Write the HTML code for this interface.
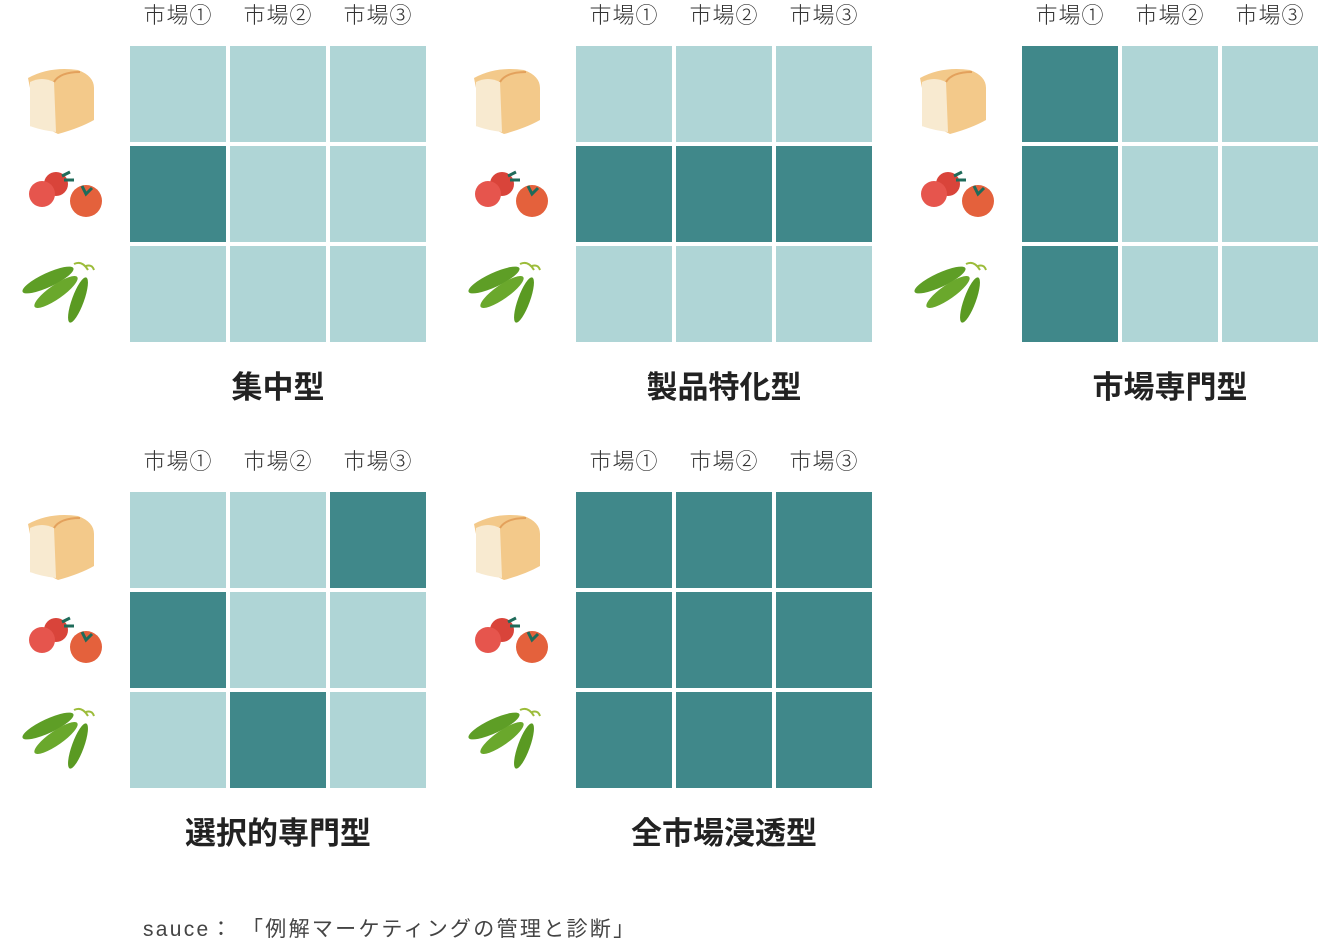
<!DOCTYPE html>
<html><head><meta charset="utf-8"><style>
body{margin:0;width:1320px;height:946px;background:#fff;position:relative;overflow:hidden;font-family:"Liberation Sans","Noto Sans CJK JP",sans-serif;color:#333}
.c{position:absolute;width:96px;height:96px;background:#afd5d6}
.d{background:#40888a}
.h{position:absolute;width:110px;margin-left:-7px;text-align:center;font-size:22px;letter-spacing:1px;font-weight:300;top:0;line-height:30px}
.t{position:absolute;width:296px;text-align:center;font-size:31px;font-weight:bold;line-height:40px;color:#222}
.ic{position:absolute}
.src{position:absolute;left:143px;top:915px;font-size:21px;letter-spacing:2.3px;line-height:30px;color:#444}
</style></head><body>
<div id="r"></div>
<div class="src">sauce： 「例解マーケティングの管理と診断」</div>
<script>
var panels=[
 {x:0,y:0,t:"集中型",d:[[1,0]]},
 {x:446,y:0,t:"製品特化型",d:[[1,0],[1,1],[1,2]]},
 {x:892,y:0,t:"市場専門型",d:[[0,0],[1,0],[2,0]]},
 {x:0,y:446,t:"選択的専門型",d:[[0,2],[1,0],[2,1]]},
 {x:446,y:446,t:"全市場浸透型",d:[[0,0],[0,1],[0,2],[1,0],[1,1],[1,2],[2,0],[2,1],[2,2]]}
];
var bread='<svg width="80" height="80" viewBox="0 0 80 80"><path d="M8 20 Q30 8 58 12 Q74 18 74 30 L74 62 Q60 70 38 76 L30 72 Q20 70 10 68 L10 30 Z" fill="#f3c98a"/><path d="M10 24 Q22 18 34 24 L36 74 Q20 72 10 68 Z" fill="#f8ead0"/><path d="M34 24 Q40 14 60 14" stroke="#e3a15c" stroke-width="2" fill="none"/></svg>';
var tom='<svg width="90" height="60" viewBox="0 0 90 60"><circle cx="40" cy="18" r="12" fill="#d9443a"/><circle cx="26" cy="28" r="13" fill="#e6554d"/><circle cx="70" cy="35" r="16" fill="#e4613c"/><path d="M46 10 l8 -4 M48 14 l10 0 M66 20 l4 8 l6 -6" stroke="#1f6b5a" stroke-width="3" fill="none"/></svg>';
var pea='<svg width="90" height="80" viewBox="0 0 90 80"><ellipse cx="34" cy="28" rx="28" ry="7" transform="rotate(-25 34 28)" fill="#5e9e26"/><ellipse cx="42" cy="40" rx="26" ry="7" transform="rotate(-35 42 40)" fill="#6aa82c"/><ellipse cx="64" cy="48" rx="24" ry="6" transform="rotate(-70 64 48)" fill="#5a9a22"/><path d="M60 12 q8 -4 14 6 M72 14 q6 -2 8 4" stroke="#9cbc3a" stroke-width="2" fill="none"/></svg>';
var h="";
panels.forEach(function(p){
 for(var c=0;c<3;c++)h+='<div class="h" style="left:'+(p.x+130+c*100)+'px;top:'+(p.y+1)+'px">市場'+"①②③"[c]+'</div>';
 for(var r=0;r<3;r++)for(var c=0;c<3;c++){
  var dk=p.d.some(function(e){return e[0]==r&&e[1]==c});
  h+='<div class="c'+(dk?' d':'')+'" style="left:'+(p.x+130+c*100)+'px;top:'+(p.y+46+r*100)+'px"></div>';
 }
 h+='<div class="ic" style="left:'+(p.x+20)+'px;top:'+(p.y+58)+'px">'+bread+'</div>';
 h+='<div class="ic" style="left:'+(p.x+16)+'px;top:'+(p.y+166)+'px">'+tom+'</div>';
 h+='<div class="ic" style="left:'+(p.x+14)+'px;top:'+(p.y+252)+'px">'+pea+'</div>';
 h+='<div class="t" style="left:'+(p.x+130)+'px;top:'+(p.y+368)+'px">'+p.t+'</div>';
});
document.getElementById("r").innerHTML=h;
</script>
</body></html>
